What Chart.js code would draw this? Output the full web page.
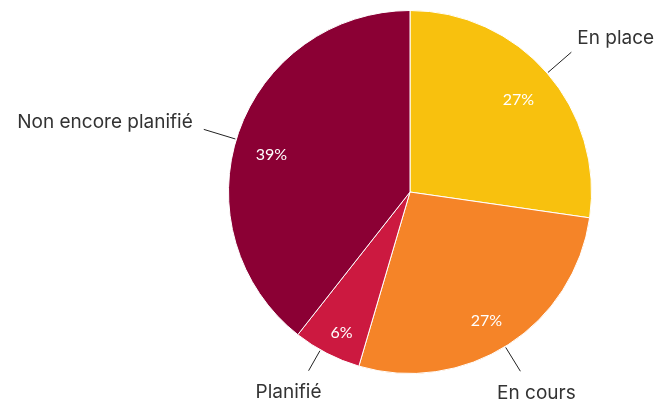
<!DOCTYPE html>
<html>
<head>
<meta charset="utf-8">
<script src="https://cdn.jsdelivr.net/npm/chart.js@4/dist/chart.umd.min.js"></script>
<style>
  html, body { margin: 0; padding: 0; background: #fff; }
  #wrap { width: 669px; height: 410px; }
</style>
</head>
<body>
<div id="wrap"><canvas id="c" width="669" height="410"></canvas></div>
<script>
const categories = ['En place', 'En cours', 'Planifié', 'Non encore planifié'];
const shares = [27, 27, 6, 39];
const sliceColors = ['#F8C10E', '#F58428', '#CC1940', '#8B0034'];
// leader line: length and small angular tilt (degrees) from the slice middle
const leaderLength = [32, 29, 24, 34];
const leaderTilt = [0, 1.1, 2.3, -2.2];
// where each outside label sits relative to the end of its leader line
const labelAnchors = [
  { dx: 6, dy: -14, align: 'left' },
  { dx: 16, dy: 22, align: 'center' },
  { dx: -20, dy: 22, align: 'center' },
  { dx: -11, dy: -7, align: 'right' }
];
// percentage text: radial position (share of radius) plus a nudge
const pctRadius = [0.79, 0.81, 0.86, 0.79];
const pctNudge = [[0, 2], [-3, 5], [3, 2], [-3, 10]];

const sliceLabels = {
  id: 'sliceLabels',
  afterDatasetsDraw(chart) {
    const ctx = chart.ctx;
    const meta = chart.getDatasetMeta(0);
    const total = shares.reduce((a, b) => a + b, 0);
    meta.data.forEach((arc, i) => {
      const p = arc.getProps(['x', 'y', 'startAngle', 'endAngle', 'outerRadius'], true);
      const mid = (p.startAngle + p.endAngle) / 2;
      ctx.save();
      // percentage inside the slice
      const pr = p.outerRadius * pctRadius[i];
      ctx.fillStyle = '#ffffff';
      ctx.font = '16px Lato, sans-serif';
      ctx.textAlign = 'center';
      ctx.textBaseline = 'middle';
      ctx.fillText(Math.round(shares[i] / total * 100) + '%',
        p.x + Math.cos(mid) * pr + pctNudge[i][0],
        p.y + Math.sin(mid) * pr + pctNudge[i][1]);
      // leader line
      const ang = mid + leaderTilt[i] * Math.PI / 180;
      const cos = Math.cos(ang), sin = Math.sin(ang);
      const r0 = p.outerRadius + 1, r1 = p.outerRadius + leaderLength[i];
      const x0 = p.x + cos * r0, y0 = p.y + sin * r0;
      const x1 = p.x + cos * r1, y1 = p.y + sin * r1;
      ctx.strokeStyle = '#222';
      ctx.lineWidth = 1;
      ctx.beginPath();
      ctx.moveTo(x0, y0);
      ctx.lineTo(x1, y1);
      ctx.stroke();
      // category name
      const a = labelAnchors[i];
      ctx.fillStyle = '#333333';
      ctx.font = '19px Inter, sans-serif';
      ctx.textAlign = a.align;
      ctx.textBaseline = 'middle';
      ctx.fillText(categories[i], x1 + a.dx, y1 + a.dy);
      ctx.restore();
    });
  }
};

new Chart(document.getElementById('c'), {
  type: 'pie',
  data: {
    labels: categories,
    datasets: [{
      data: shares,
      backgroundColor: sliceColors,
      borderColor: '#ffffff',
      borderWidth: 1
    }]
  },
  options: {
    responsive: false,
    animation: false,
    layout: { padding: { left: 228, right: 77, top: 10, bottom: 36 } },
    plugins: {
      legend: { display: false },
      tooltip: { enabled: false }
    }
  },
  plugins: [sliceLabels]
});
</script>
</body>
</html>
